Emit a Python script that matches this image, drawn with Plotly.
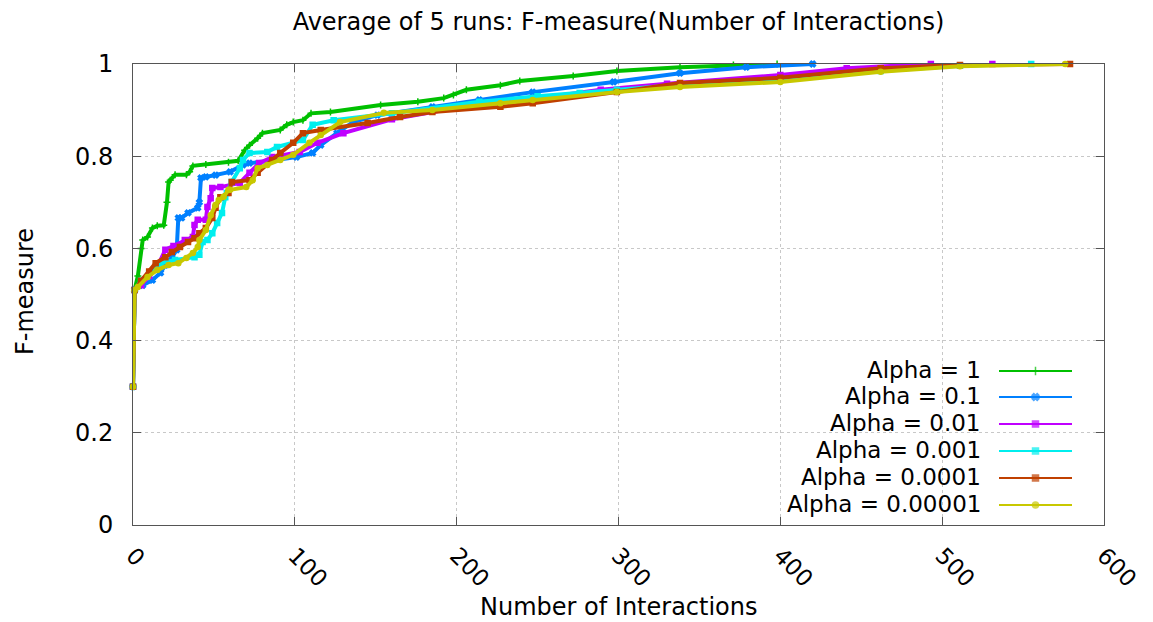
import plotly.graph_objects as go

# Average F-measure over 5 runs versus number of interactions, one series per alpha
x_alpha_1 = [0, 1, 3, 5, 6, 9, 12, 15, 19, 21, 22, 23, 26, 33, 35, 37, 45, 59, 65, 69,
             72, 77, 80, 91, 95, 99, 105, 110, 122, 153, 176, 192, 198, 206, 227, 239, 272, 299, 338, 371, 398]
y_alpha_1 = [0.30, 0.51, 0.54, 0.60, 0.618, 0.625, 0.644, 0.649, 0.65, 0.70, 0.744, 0.748, 0.76, 0.76, 0.766, 0.779, 0.782, 0.787, 0.79, 0.813,
             0.824, 0.839, 0.85, 0.857, 0.868, 0.874, 0.878, 0.893, 0.896, 0.911, 0.918, 0.926, 0.933, 0.944, 0.954, 0.963, 0.974, 0.985, 0.993, 0.998, 1.0]

x_alpha_01 = [0, 1, 6, 12, 17, 20, 24, 27, 28, 30, 34, 40, 41, 42, 45, 51, 60, 68, 72, 85,
              101, 111, 116, 126, 136, 151, 185, 214, 247, 297, 338, 379, 420]
y_alpha_01 = [0.30, 0.51, 0.52, 0.531, 0.547, 0.564, 0.58, 0.597, 0.666, 0.666, 0.677, 0.688, 0.70, 0.753, 0.755, 0.759, 0.766, 0.781, 0.785, 0.79,
              0.798, 0.807, 0.824, 0.85, 0.874, 0.889, 0.907, 0.922, 0.939, 0.961, 0.98, 0.993, 1.0]

x_alpha_001 = [0, 1, 5, 10, 15, 20, 25, 32, 37, 38, 40, 45, 46, 48, 49, 54, 66, 72, 78, 86,
               103, 114, 130, 160, 200, 250, 289, 330, 400, 441, 493, 531]
y_alpha_001 = [0.30, 0.51, 0.52, 0.54, 0.56, 0.597, 0.605, 0.618, 0.625, 0.651, 0.662, 0.662, 0.69, 0.709, 0.731, 0.733, 0.742, 0.764, 0.785, 0.798,
               0.809, 0.829, 0.85, 0.88, 0.905, 0.925, 0.944, 0.957, 0.976, 0.991, 1.0, 1.0]

x_alpha_0001 = [0, 1, 5, 10, 14, 17, 26, 38, 41, 43, 46, 49, 52, 55, 57, 58, 61, 66, 68, 72,
                83, 89, 105, 111, 124, 160, 214, 250, 276, 299, 338, 400, 462, 511, 555]
y_alpha_0001 = [0.30, 0.51, 0.53, 0.547, 0.557, 0.568, 0.575, 0.581, 0.586, 0.614, 0.618, 0.633, 0.655, 0.677, 0.711, 0.72, 0.744, 0.774, 0.792, 0.807,
                0.809, 0.82, 0.835, 0.868, 0.878, 0.893, 0.918, 0.93, 0.937, 0.944, 0.955, 0.968, 0.985, 0.996, 1.0]

x_alpha_00001 = [0, 1, 5, 10, 14, 20, 24, 29, 34, 38, 41, 45, 49, 51, 54, 59, 61, 72, 77, 86,
                 91, 99, 105, 116, 145, 165, 185, 227, 247, 299, 338, 400, 462, 511, 579]
y_alpha_00001 = [0.30, 0.51, 0.53, 0.55, 0.568, 0.581, 0.592, 0.603, 0.614, 0.622, 0.633, 0.644, 0.666, 0.688, 0.711, 0.72, 0.744, 0.748, 0.764, 0.792,
                 0.807, 0.829, 0.85, 0.857, 0.872, 0.885, 0.896, 0.907, 0.915, 0.939, 0.959, 0.970, 0.991, 0.998, 1.0]

x_alpha_000001 = [0, 1, 3, 9, 15, 22, 28, 33, 37, 40, 41, 45, 48, 51, 53, 56, 59, 60, 70, 74,
                  77, 83, 91, 99, 109, 116, 128, 155, 185, 227, 247, 299, 338, 400, 462, 511, 576]
y_alpha_000001 = [0.30, 0.51, 0.516, 0.538, 0.553, 0.564, 0.568, 0.579, 0.59, 0.603, 0.618, 0.64, 0.672, 0.694, 0.705, 0.712, 0.727, 0.727, 0.733, 0.748,
                  0.774, 0.781, 0.792, 0.803, 0.829, 0.846, 0.874, 0.894, 0.90, 0.915, 0.922, 0.939, 0.95, 0.961, 0.983, 0.995, 1.0]

series_names = ["Alpha = 1", "Alpha = 0.1", "Alpha = 0.01", "Alpha = 0.001", "Alpha = 0.0001", "Alpha = 0.00001"]
series_x = [x_alpha_1, x_alpha_01, x_alpha_001, x_alpha_0001, x_alpha_00001, x_alpha_000001]
series_y = [y_alpha_1, y_alpha_01, y_alpha_001, y_alpha_0001, y_alpha_00001, y_alpha_000001]
series_colors = ["#00c000", "#0080ff", "#c000ff", "#00eeee", "#c04000", "#c8c800"]
series_symbols = ["cross-thin", "x", "square", "square", "square", "circle"]

x_ticks = [0, 100, 200, 300, 400, 500, 600]
y_ticks = [0, 0.2, 0.4, 0.6, 0.8, 1]
y_tick_labels = ["0", "0.2", "0.4", "0.6", "0.8", "1"]

W, H = 1153, 622
L, R, T, B = 133, 49, 64, 97
plot_w = W - L - R
plot_h = H - T - B

FONT = "DejaVu Sans"
FS = 24

fig = go.Figure()

for name, xs, ys, col, sym in zip(series_names, series_x, series_y, series_colors, series_symbols):
    fig.add_trace(go.Scatter(
        x=xs, y=ys, name=name, mode="lines+markers",
        line=dict(color=col, width=4),
        marker=dict(color=col, size=5, symbol=sym, line=dict(color=col, width=1.5)),
        cliponaxis=False, showlegend=False,
    ))

# Legend drawn in pixel space: text right-aligned, sample line on the right
leg_rows_py = [371, 397, 424, 451, 478, 505]
leg_text_right = 983
leg_line = (999, 1072)
for i, (name, col, sym) in enumerate(zip(series_names, series_colors, series_symbols)):
    py = leg_rows_py[i]
    fig.add_trace(go.Scatter(
        x=[leg_line[0], (leg_line[0] + leg_line[1]) / 2, leg_line[1]], y=[py, py, py],
        xaxis="x2", yaxis="y2", mode="lines+markers",
        line=dict(color=col, width=2),
        marker=dict(color=col, size=[0, 6, 0], symbol=sym, line=dict(color=col, width=1.5)),
        showlegend=False, hoverinfo="skip", cliponaxis=False,
    ))
    fig.add_annotation(
        x=(leg_text_right - L) / plot_w, y=(H - B - py + 1) / plot_h, xref="paper", yref="paper",
        text=name, showarrow=False, xanchor="right", yanchor="middle",
        font=dict(family=FONT, size=23, color="black"),
    )

# White backing behind the key
fig.add_shape(type="rect", xref="paper", yref="paper",
              x0=(740 - L) / plot_w, x1=(1086 - L) / plot_w,
              y0=(H - B - 519) / plot_h, y1=(H - B - 353) / plot_h,
              fillcolor="white", line=dict(width=0), layer="between")

axis_common = dict(
    showline=True, linecolor="#555555", linewidth=1, mirror="ticks",
    ticks="inside", ticklen=8, tickcolor="#555555",
    showgrid=True, gridcolor="#c8c8c8", griddash="dot", gridwidth=1,
    zeroline=False,
)

fig.update_layout(
    width=W, height=H,
    margin=dict(l=L, r=R, t=T, b=B),
    paper_bgcolor="white", plot_bgcolor="white",
    title=dict(text="Average of 5 runs: F-measure(Number of Interactions)",
               x=(L + plot_w / 2) / W, xanchor="center", y=1 - 22 / H, yanchor="middle",
               xref="container", yref="container",
               font=dict(family=FONT, size=FS, color="black")),
    xaxis=dict(range=[0, 600], tickvals=x_ticks, tickangle=45, ticklabelstandoff=7,
               tickfont=dict(family=FONT, size=23, color="black"), **axis_common),
    yaxis=dict(range=[0, 1], tickvals=y_ticks, ticktext=y_tick_labels, ticklabelstandoff=14,
               tickfont=dict(family=FONT, size=FS, color="black"), **axis_common),
    xaxis2=dict(range=[L, W - R], overlaying="x", visible=False, fixedrange=True),
    yaxis2=dict(range=[H - B, T], overlaying="y", visible=False, fixedrange=True),
    showlegend=False,
)

fig.add_annotation(x=0.5, y=-(607 - (H - B)) / plot_h, xref="paper", yref="paper",
                   text="Number of Interactions", showarrow=False, xanchor="center", yanchor="middle",
                   font=dict(family=FONT, size=FS, color="black"))
fig.add_annotation(x=-(L - 25) / plot_w, y=(H - B - 292) / plot_h, xref="paper", yref="paper",
                   text="F-measure", showarrow=False, textangle=-90, xanchor="center", yanchor="middle",
                   font=dict(family=FONT, size=FS, color="black"))

fig.write_html("out.html")
